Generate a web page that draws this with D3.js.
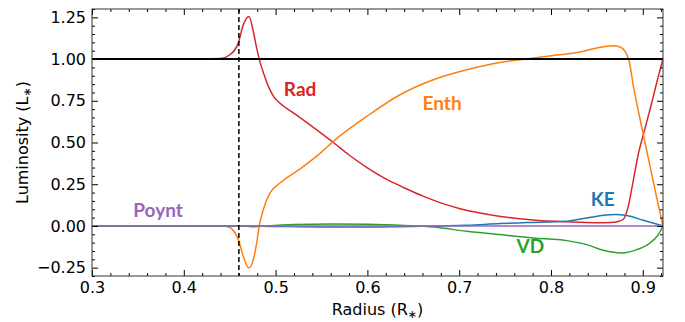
<!DOCTYPE html>
<html>
<head>
<meta charset="utf-8">
<script src="https://cdn.jsdelivr.net/npm/d3@7"></script>
<style>
  html, body { margin: 0; padding: 0; background: #fff; }
  svg { display: block; }
  .tick-label { font-family: "DejaVu Sans", sans-serif; font-size: 16px; fill: #000; }
  .axis-title { font-family: "DejaVu Sans", sans-serif; font-size: 16px; fill: #000; }
  .series-label { font-family: Lato, "Open Sans", sans-serif; font-weight: bold; font-size: 19px; }
</style>
</head>
<body>
<svg id="chart" width="685" height="322"></svg>
<script>
// Luminosity components versus radius
const radRadius = [0.30, 0.40, 0.440, 0.4503, 0.4594, 0.4648, 0.4710, 0.4757, 0.4794, 0.4822, 0.4885, 0.4939, 0.4985, 0.5048, 0.520, 0.540, 0.5629, 0.580, 0.600, 0.620, 0.640, 0.660, 0.680, 0.700, 0.720, 0.745, 0.780, 0.817, 0.853, 0.8643, 0.8730, 0.8788, 0.8842, 0.8879, 0.8951, 0.9024, 0.9097, 0.9169, 0.922];
const radValues = [1.000, 1.000, 1.004, 1.026, 1.097, 1.205, 1.255, 1.165, 1.066, 1.000, 0.890, 0.815, 0.770, 0.735, 0.675, 0.595, 0.500, 0.425, 0.348, 0.282, 0.229, 0.180, 0.138, 0.105, 0.080, 0.056, 0.036, 0.025, 0.019, 0.020, 0.026, 0.040, 0.117, 0.220, 0.430, 0.585, 0.737, 0.896, 1.000];

const enthRadius = [0.30, 0.44, 0.449, 0.455, 0.4594, 0.4648, 0.4710, 0.4757, 0.4794, 0.4822, 0.4866, 0.4939, 0.5048, 0.5266, 0.5484, 0.5629, 0.5992, 0.6355, 0.6718, 0.7082, 0.7444, 0.7662, 0.8025, 0.8316, 0.8498, 0.8679, 0.8752, 0.8806, 0.8850, 0.8900, 0.8951, 0.9024, 0.9097, 0.9169, 0.922];
const enthValues = [0.000, 0.000, -0.006, -0.035, -0.082, -0.182, -0.252, -0.202, -0.102, 0.000, 0.098, 0.198, 0.257, 0.342, 0.435, 0.507, 0.656, 0.786, 0.876, 0.936, 0.980, 0.996, 1.022, 1.042, 1.066, 1.080, 1.072, 1.046, 0.990, 0.830, 0.690, 0.500, 0.310, 0.125, 0.000];

const keRadius = [0.30, 0.46, 0.50, 0.55, 0.60, 0.65, 0.7082, 0.7444, 0.7735, 0.8171, 0.8389, 0.8697, 0.8825, 0.9006, 0.922];
const keValues = [0.000, 0.000, -0.003, -0.006, -0.006, -0.003, 0.004, 0.014, 0.020, 0.028, 0.048, 0.068, 0.062, 0.034, 0.000];

const vdRadius = [0.30, 0.46, 0.475, 0.49, 0.52, 0.56, 0.60, 0.64, 0.6718, 0.7082, 0.7444, 0.7804, 0.8171, 0.8389, 0.8570, 0.8770, 0.8934, 0.9078, 0.9169, 0.922];
const vdValues = [0.000, 0.000, -0.005, 0.000, 0.008, 0.012, 0.010, 0.003, -0.006, -0.032, -0.052, -0.072, -0.088, -0.112, -0.146, -0.162, -0.142, -0.102, -0.052, 0.000];

const poyntRadius = [0.30, 0.922];
const poyntValues = [0.000, 0.000];

const totalLuminosity = 1.0;
const boundaryRadius = 0.46;

const xTicks = [0.3, 0.4, 0.5, 0.6, 0.7, 0.8, 0.9];
const yTicks = [-0.25, 0.00, 0.25, 0.50, 0.75, 1.00, 1.25];

const seriesNames = ["Rad", "Enth", "KE", "VD", "Poynt"];
const seriesColors = ["#d62728", "#ff7f0e", "#1f77b4", "#2ca02c", "#9467bd"];

const width = 685, height = 322;
const margin = { top: 9, right: 22, bottom: 46, left: 92 };
const innerW = width - margin.left - margin.right;
const innerH = height - margin.top - margin.bottom;

const svg = d3.select("#chart");
const g = svg.append("g").attr("transform", `translate(${margin.left},${margin.top})`);

const x = d3.scaleLinear().domain([0.3, 0.922]).range([0, innerW]);
const y = d3.scaleLinear().domain([-0.3, 1.3]).range([innerH, 0]);

g.append("clipPath").attr("id", "plot-clip")
  .append("rect").attr("width", innerW).attr("height", innerH);

const plot = g.append("g").attr("clip-path", "url(#plot-clip)");

const line = d3.line()
  .x(d => x(d[0]))
  .y(d => y(d[1]))
  .curve(d3.curveMonotoneX);

const series = [
  { name: "Rad", r: radRadius, v: radValues },
  { name: "Enth", r: enthRadius, v: enthValues },
  { name: "KE", r: keRadius, v: keValues },
  { name: "VD", r: vdRadius, v: vdValues },
  { name: "Poynt", r: poyntRadius, v: poyntValues }
];
const color = d3.scaleOrdinal().domain(seriesNames).range(seriesColors);

series.forEach(s => {
  plot.append("path")
    .datum(d3.zip(s.r, s.v))
    .attr("fill", "none")
    .attr("stroke", color(s.name))
    .attr("stroke-width", 1.5)
    .attr("d", line);
});

// reference level L = 1
plot.append("line")
  .attr("x1", 0).attr("x2", innerW)
  .attr("y1", y(totalLuminosity)).attr("y2", y(totalLuminosity))
  .attr("stroke", "#000").attr("stroke-width", 2);

// base of the convection zone
plot.append("line")
  .attr("x1", x(boundaryRadius)).attr("x2", x(boundaryRadius))
  .attr("y1", 0).attr("y2", innerH)
  .attr("stroke", "#000").attr("stroke-width", 1.5)
  .attr("stroke-dasharray", "5,3");

// axes with inward ticks on all four sides
const xMinor = d3.range(0.30, 0.9221, 0.02).filter(v => !xTicks.some(t => Math.abs(t - v) < 1e-6));
const yMinor = d3.range(-0.30, 1.3001, 0.05).filter(v => !yTicks.some(t => Math.abs(t - v) < 1e-6));

function ticksOn(axisFn, scale, values, size, transform) {
  const a = axisFn(scale).tickValues(values).tickSize(size).tickFormat("");
  const sel = g.append("g").attr("transform", transform).call(a);
  sel.select(".domain").remove();
  sel.selectAll("line").attr("stroke", "#000").attr("stroke-width", 1);
  return sel;
}
ticksOn(d3.axisTop, x, xTicks, 6, `translate(0,${innerH})`);
ticksOn(d3.axisTop, x, xMinor, 3, `translate(0,${innerH})`);
ticksOn(d3.axisBottom, x, xTicks, 6, `translate(0,0)`);
ticksOn(d3.axisBottom, x, xMinor, 3, `translate(0,0)`);
ticksOn(d3.axisRight, y, yTicks, 6, `translate(0,0)`);
ticksOn(d3.axisRight, y, yMinor, 3, `translate(0,0)`);
ticksOn(d3.axisLeft, y, yTicks, 6, `translate(${innerW},0)`);
ticksOn(d3.axisLeft, y, yMinor, 3, `translate(${innerW},0)`);

// frame
g.append("rect").attr("width", innerW).attr("height", innerH)
  .attr("fill", "none").attr("stroke", "#333").attr("stroke-width", 1);

// tick labels
const xLabelAxis = d3.axisBottom(x).tickValues(xTicks).tickSize(0).tickPadding(6).tickFormat(d3.format(".1f"));
const xl = g.append("g").attr("transform", `translate(0,${innerH})`).call(xLabelAxis);
xl.select(".domain").remove();
xl.selectAll("text").attr("class", "tick-label");
xl.attr("font-size", null).attr("font-family", null);

const yLabelAxis = d3.axisLeft(y).tickValues(yTicks).tickSize(0).tickPadding(6)
  .tickFormat(d => d3.format(".2f")(d).replace("-", "\u2212"));
const yl = g.append("g").call(yLabelAxis);
yl.select(".domain").remove();
yl.selectAll("text").attr("class", "tick-label");
yl.attr("font-size", null).attr("font-family", null);

// axis titles
const xt = svg.append("text").attr("class", "axis-title")
  .attr("x", margin.left + innerW / 2).attr("y", 315).attr("text-anchor", "middle");
xt.append("tspan").text("Radius (R");
xt.append("tspan").attr("font-size", 11).attr("dy", 3).text("\u2217");
xt.append("tspan").attr("dy", -3).text(")");

const yt = svg.append("text").attr("class", "axis-title")
  .attr("transform", `translate(28,${margin.top + innerH / 2}) rotate(-90)`)
  .attr("text-anchor", "middle");
yt.append("tspan").text("Luminosity (L");
yt.append("tspan").attr("font-size", 11).attr("dy", 3).text("\u2217");
yt.append("tspan").attr("dy", -3).text(")");

// series labels
const labelPos = {
  Rad: [0.509, 0.778],
  Enth: [0.6601, 0.694],
  KE: [0.8434, 0.119],
  VD: [0.7624, -0.164],
  Poynt: [0.3450, 0.053]
};
seriesNames.forEach(n => {
  svg.append("text").attr("class", "series-label")
    .attr("x", margin.left + x(labelPos[n][0]))
    .attr("y", margin.top + y(labelPos[n][1]))
    .attr("fill", color(n))
    .text(n);
});
</script>
</body>
</html>
